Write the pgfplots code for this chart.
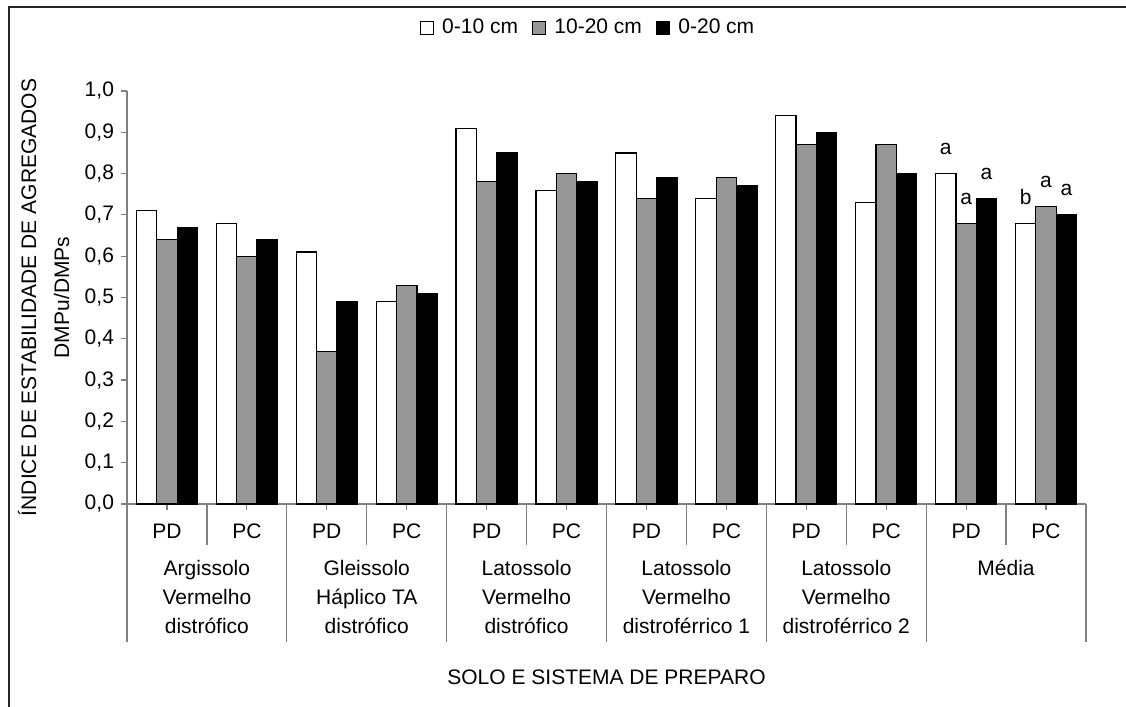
\documentclass[border=0pt]{standalone}
\usepackage{pgfplots}
\pgfplotsset{compat=1.18}
\usepackage{fontspec}
\setmainfont{Liberation Sans}
\definecolor{barGray}{RGB}{150,150,150}
\definecolor{axGray}{RGB}{128,128,128}
\begin{document}
\begin{tikzpicture}[x=1pt,y=1pt]
\path[use as bounding box] (0,0) rectangle (563,353.5);
\draw[line width=0.9pt, black!85] (4.5,-5) -- (4.5,350) -- (570,350);
\pgfplotsset{mylegend/.style={legend image code/.code={\draw[##1,line width=0.7pt] (0pt,-3.25pt) rectangle (6.5pt,3.25pt);}}}
\begin{axis}[
  at={(63.5pt,101.5pt)}, anchor=south west,
  width=479.5pt, height=206.5pt, scale only axis,
  ybar=0pt, bar width=10.2pt,
  xmin=-0.5, xmax=11.5, ymin=0, ymax=1,
  axis x line*=bottom, axis y line*=left,
  axis line style={-, draw=axGray, line width=0.6pt},
  tick style={draw=axGray, line width=0.6pt},
  tick align=outside, major tick length=3pt,
  ytick={0,0.1,0.2,0.3,0.4,0.5,0.6,0.7,0.8,0.9,1},
  yticklabel style={/pgf/number format/.cd, fixed, fixed zerofill, precision=1, use comma, assume math mode=true},
  xtick={0,1,2,3,4,5,6,7,8,9,10,11},
  xticklabels={PD,PC,PD,PC,PD,PC,PD,PC,PD,PC,PD,PC},
  xticklabel style={yshift=-3.5pt},
  minor xtick={-0.5,1.5,3.5,5.5,7.5,9.5,11.5},
  minor tick length=69pt,
  minor tick style={draw=axGray, line width=0.6pt},
  extra x ticks={0.5,2.5,4.5,6.5,8.5,10.5},
  extra x tick labels={{Argissolo\\Vermelho\\distrófico},{Gleissolo\\Háplico TA\\distrófico},{Latossolo\\Vermelho\\distrófico},{Latossolo\\Vermelho\\distroférrico 1},{Latossolo\\Vermelho\\distroférrico 2},{Média}},
  extra x tick style={major tick length=20.5pt, tick style={draw=axGray, line width=0.6pt}, xticklabel style={align=center, font=\fontsize{10.5}{14.5}\selectfont, anchor=north, yshift=-0.5pt}},
  tick label style={font=\fontsize{10.5}{12.6}\selectfont},
  ylabel={ÍNDICE DE ESTABILIDADE DE AGREGADOS\\DMPu/DMPs},
  ylabel style={align=center, font=\fontsize{10.5}{16.5}\selectfont, at={(axis description cs:0,0.5)}, anchor=center, yshift=41.75pt},
  xlabel={SOLO E SISTEMA DE PREPARO},
  xlabel style={font=\fontsize{10.5}{12.6}\selectfont, at={(axis description cs:0.5,0)}, anchor=center, yshift=-86.5pt},
  legend style={at={(axis description cs:0.4818,1.1525)}, anchor=center, draw=none, fill=none, legend columns=3, font=\fontsize{10.5}{12.6}\selectfont, /tikz/every odd column/.append style={column sep=2pt}, /tikz/every even column/.append style={column sep=5pt}},
  every axis plot/.append style={draw=black, line width=0.6pt},
  clip=false,
]
\addplot[fill=white, mylegend] coordinates {(0,0.71) (1,0.68) (2,0.61) (3,0.49) (4,0.91) (5,0.76) (6,0.85) (7,0.74) (8,0.94) (9,0.73) (10,0.80) (11,0.68)};
\addplot[fill=barGray, mylegend] coordinates {(0,0.64) (1,0.60) (2,0.37) (3,0.53) (4,0.78) (5,0.80) (6,0.74) (7,0.79) (8,0.87) (9,0.87) (10,0.68) (11,0.72)};
\addplot[fill=black, mylegend] coordinates {(0,0.67) (1,0.64) (2,0.49) (3,0.51) (4,0.85) (5,0.78) (6,0.79) (7,0.77) (8,0.90) (9,0.80) (10,0.74) (11,0.70)};
\legend{0-10 cm,10-20 cm,0-20 cm}
\node[anchor=base, xshift=-10.2pt, yshift=9.5pt, font=\fontsize{10.5}{12.6}\selectfont] at (axis cs:10,0.80) {a};
\node[anchor=base, yshift=9.5pt, font=\fontsize{10.5}{12.6}\selectfont] at (axis cs:10,0.68) {a};
\node[anchor=base, xshift=10.2pt, yshift=9.5pt, font=\fontsize{10.5}{12.6}\selectfont] at (axis cs:10,0.74) {a};
\node[anchor=base, xshift=-10.2pt, yshift=9.5pt, font=\fontsize{10.5}{12.6}\selectfont] at (axis cs:11,0.68) {b};
\node[anchor=base, yshift=9.5pt, font=\fontsize{10.5}{12.6}\selectfont] at (axis cs:11,0.72) {a};
\node[anchor=base, xshift=10.2pt, yshift=9.5pt, font=\fontsize{10.5}{12.6}\selectfont] at (axis cs:11,0.70) {a};
\end{axis}
\end{tikzpicture}
\end{document}
